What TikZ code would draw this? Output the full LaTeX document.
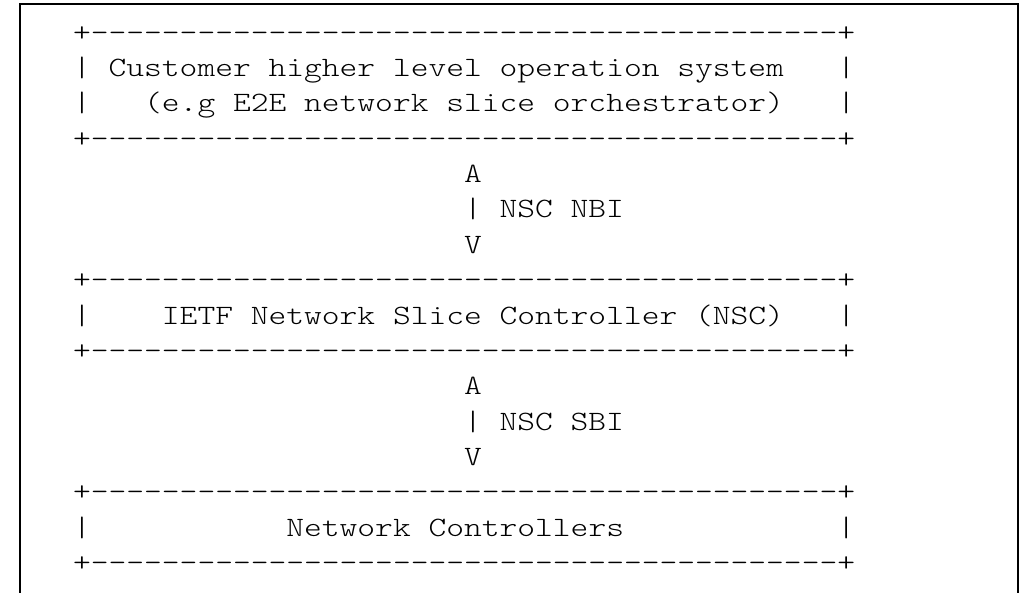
\documentclass[tikz,border=0pt]{standalone}
\usepackage{fontspec}
\newfontfamily\asciifont[FakeStretch=1.209]{lmmonolt10-regular.otf}
\usetikzlibrary{positioning}
\newcommand{\boxedge}{+------------------------------------------+}
\tikzset{
  every picture/.style={x=0.75pt, y=-0.75pt},
  ascii/.style={font=\asciifont\fontsize{21pt}{26pt}\selectfont, anchor=base west, inner sep=0pt, outer sep=0pt},
  frame/.style={line width=1.6pt, line cap=rect},
}

\begin{document}
\begin{tikzpicture}
  \useasboundingbox (0,0) rectangle (1030,592);
  \draw[frame] (20,600) -- (20,4) -- (1018,4) -- (1018,600);
  % one node per text row: name/row/column/text
  \foreach \n/\r/\c/\t in {
      orchtop/1/0/\boxedge,
      orchone/2/0/|~Customer higher level operation system~~~|,
      orchtwo/3/0/|~~~(e.g E2E network slice orchestrator)~~~|,
      orchbot/4/0/\boxedge,
      nbiup/5/22/A,
      nbimid/6/22/| NSC NBI,
      nbidown/7/22/V,
      nsctop/8/0/\boxedge,
      nsctxt/9/0/|~~~~IETF Network Slice Controller (NSC)~~~|,
      nscbot/10/0/\boxedge,
      sbiup/11/22/A,
      sbimid/12/22/| NSC SBI,
      sbidown/13/22/V,
      nctop/14/0/\boxedge,
      nctxt/15/0/|~~~~~~~~~~~Network Controllers~~~~~~~~~~~~|,
      ncbot/16/0/\boxedge} {
    \node[ascii] (\n) at ({73.1+\c*17.77}, {41.2+(\r-1)*35.35}) {\t};
  }
\end{tikzpicture}
\end{document}
